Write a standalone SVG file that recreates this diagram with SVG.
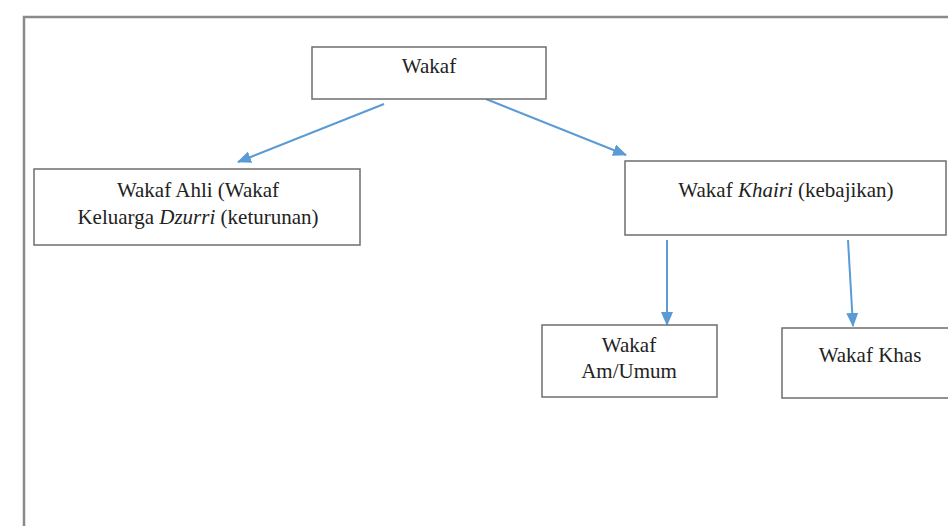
<svg xmlns="http://www.w3.org/2000/svg" width="948" height="526" viewBox="0 0 948 526">
  <defs>
    <style>
      .box { fill: #ffffff; stroke: #6e6e6e; stroke-width: 1.5; }
      .frame { fill: none; stroke: #8a8a8a; stroke-width: 2.5; }
      .t { font-family: "Liberation Serif", "Times New Roman", serif; font-size: 21px; fill: #222222; text-anchor: middle; }
      .i { font-style: italic; }
      .conn { stroke: #5b9bd5; stroke-width: 2; fill: none; marker-end: url(#ah); }
    </style>
    <marker id="ah" markerUnits="userSpaceOnUse" markerWidth="14" markerHeight="12" refX="13" refY="6" orient="auto">
      <path d="M0,0 L14,6 L0,12 Z" fill="#5b9bd5"/>
    </marker>
  </defs>
  <rect width="948" height="526" fill="#ffffff"/>
  <path class="frame" d="M24,530 L24,17 L950,17"/>

  <g id="connectors">
    <line class="conn" x1="384" y1="104" x2="238" y2="162"/>
    <line class="conn" x1="486" y1="99" x2="626" y2="155"/>
    <line class="conn" x1="667" y1="240" x2="667" y2="325"/>
    <line class="conn" x1="848" y1="240" x2="853" y2="326"/>
  </g>

  <g id="wakaf">
    <rect class="box" x="312" y="47" width="234" height="52"/>
    <text class="t" x="429" y="73">Wakaf</text>
  </g>

  <g id="wakaf-ahli">
    <rect class="box" x="34" y="169" width="326" height="76"/>
    <text class="t" x="198" y="197">Wakaf Ahli (Wakaf</text>
    <text class="t" x="198" y="224">Keluarga <tspan class="i">Dzurri</tspan> (keturunan)</text>
  </g>

  <g id="wakaf-khairi">
    <rect class="box" x="625" y="161" width="321" height="74"/>
    <text class="t" x="786" y="197">Wakaf <tspan class="i">Khairi</tspan> (kebajikan)</text>
  </g>

  <g id="wakaf-am">
    <rect class="box" x="542" y="325" width="175" height="72"/>
    <text class="t" x="629" y="352">Wakaf</text>
    <text class="t" x="629" y="378">Am/Umum</text>
  </g>

  <g id="wakaf-khas">
    <rect class="box" x="782" y="328" width="190" height="70"/>
    <text class="t" x="870" y="362">Wakaf Khas</text>
  </g>
</svg>
